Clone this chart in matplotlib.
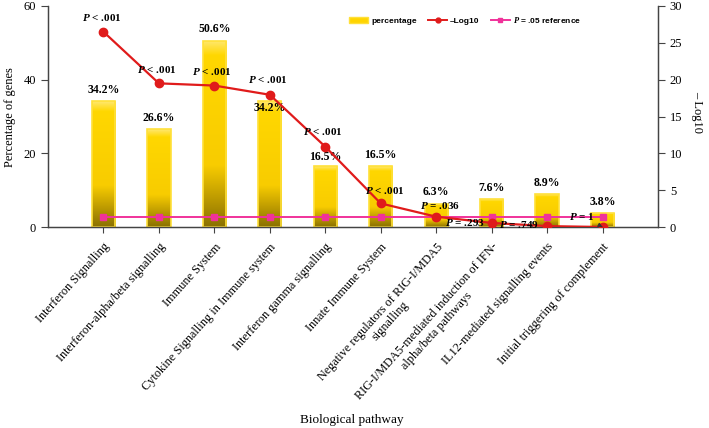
import numpy as np
import matplotlib
matplotlib.use("Agg")
import matplotlib.pyplot as plt
from matplotlib.colors import LinearSegmentedColormap
from matplotlib.lines import Line2D
from matplotlib.patches import Patch

# data
pathways = [
    "Interferon Signalling",
    "Interferon-alpha/beta signalling",
    "Immune System",
    "Cytokine Signalling in Immune system",
    "Interferon gamma signalling",
    "Innate Immune System",
    "Negative regulators of RIG-I/MDA5\nsignalling",
    "RIG-I/MDA5-mediated induction of IFN-\nalpha/beta pathways",
    "IL12-mediated signalling events",
    "Initial triggering of complement",
]
percentage = [34.2, 26.6, 50.6, 34.2, 16.5, 16.5, 6.3, 7.6, 8.9, 3.8]
neg_log10 = [26.5, 19.5, 19.2, 17.95, 10.9, 3.2, 1.4, 0.55, 0.12, 0.0]
ref_line = [1.3] * 10
p_labels = ["$P$ < .001", "$P$ < .001", "$P$ < .001", "$P$ < .001", "$P$ < .001",
            "$P$ < .001", "$P$ = .036", "$P$ = .293", "$P$ = .749", "$P$ = 1"]

plt.rcParams["font.family"] = ["Liberation Serif", "DejaVu Serif"]
plt.rcParams["mathtext.fontset"] = "custom"
plt.rcParams["mathtext.rm"] = "Liberation Serif"
plt.rcParams["mathtext.it"] = "Liberation Serif:italic:bold"
plt.rcParams["mathtext.bf"] = "Liberation Serif:bold"

fig = plt.figure(figsize=(7.09, 4.28), dpi=100)
ax = fig.add_axes([48 / 709, 1 - 227 / 428, 610 / 709, 221 / 428])
ax2 = ax.twinx()

x = np.arange(len(pathways))
width = 0.42

#gradient bars: gold on top, olive at the base
cmap = LinearSegmentedColormap.from_list(
    "gold", [(0, "#8A7000"), (0.33, "#F8CC00"), (0.92, "#FFD700"), (1, "#FFE870")])
grad = np.linspace(0, 1, 256).reshape(-1, 1)
bars = ax.bar(x, percentage, width=width, color="#FFD400", zorder=1)
for b in bars:
    im = ax.imshow(grad, extent=[b.get_x(), b.get_x() + b.get_width(), 0, b.get_height()],
                   origin="lower", aspect="auto", cmap=cmap, zorder=1.5)
    im.set_clip_path(b)
ax.bar(x, percentage, width=width, facecolor="none", edgecolor="#FFE03A", lw=1.2, zorder=2)

ax.set_xlim(-1, 10)
ax.set_ylim(0, 60)
ax.set_yticks([0, 20, 40, 60])
ax.set_xticks(x)
ax.set_xticklabels(pathways, rotation=48, ha="right", va="top", rotation_mode="anchor",
                   fontsize=8.8, multialignment="center")
ax.tick_params(axis="x", length=4, pad=6, color="#444444")
ax.tick_params(axis="y", labelsize=9, length=5, color="#444444")

#bar value labels
bar_dy = [11, 11, 12, -7, 9, 11, 12, 11, 11, 11]
for xi, v, dy in zip(x, percentage, bar_dy):
    ax.annotate(f"{v}%", (xi, v), xytext=(0, dy), textcoords="offset pixels",
                ha="center", va="center", fontsize=8.5, fontweight="bold", zorder=3)

ax2.plot(x, neg_log10, color="#E01B1B", lw=1.6, marker="o", ms=6, zorder=4)
ax2.plot(x, ref_line, color="#F0329A", lw=1.4, marker="s", ms=4.5, zorder=3)
ax2.set_ylim(0, 30)
ax2.set_yticks(range(0, 31, 5))
ax2.tick_params(axis="y", labelsize=9, length=5, color="#444444")

#P value labels
p_off = [(-2, 14), (-2, 14), (-3, 14), (-2, 15), (-2, 15), (4, 13), (4, 11), (-27, 0), (-28, 2)]
for xi, v, lab, (dx, dy) in zip(x, neg_log10, p_labels, p_off):
    ax2.annotate(lab, (xi, v), xytext=(dx, dy), textcoords="offset pixels",
                 ha="center", va="center", fontsize=8, fontweight="bold", zorder=5)
ax2.annotate(p_labels[9], (x[9], neg_log10[9]), xytext=(-21, 11), textcoords="offset pixels",
             ha="center", va="center", fontsize=8, fontweight="bold", zorder=5,
             arrowprops=dict(arrowstyle="-|>", color="#333333", lw=0.8, shrinkA=4, shrinkB=3,
                             mutation_scale=6))

for a in (ax, ax2):
    a.spines["top"].set_visible(False)
    for s in ("left", "right", "bottom"):
        a.spines[s].set_color("#444444")
        a.spines[s].set_linewidth(0.9)

fig.text(10 / 709, 1 - 117 / 428, "Percentage of genes", rotation=90, ha="center", va="center",
         fontsize=9)
fig.text(697 / 709, 1 - 112 / 428, "\u2013 Log10", rotation=270, ha="center", va="center",
         fontsize=9)
fig.text(352 / 709, 1 - 420 / 428, "Biological pathway", ha="center", va="center", fontsize=9.5)

handles = [
    Patch(facecolor="#FFD400", edgecolor="#FFE03A"),
    Line2D([], [], color="#E01B1B", lw=1.4, marker="o", ms=3.5),
    Line2D([], [], color="#F0329A", lw=1.4, marker="s", ms=3.5),
]
labels = ["percentage", "\u2013Log10", "$P$ = .05 reference"]
ax2.legend(handles, labels, loc="center right", bbox_to_anchor=(0.886, 0.937), ncol=3,
           frameon=False, handlelength=2.2, handletextpad=0.4, columnspacing=1.4,
           prop={"family": "Liberation Sans", "weight": "bold", "size": 6})

fig.savefig("out.png", dpi=100)
